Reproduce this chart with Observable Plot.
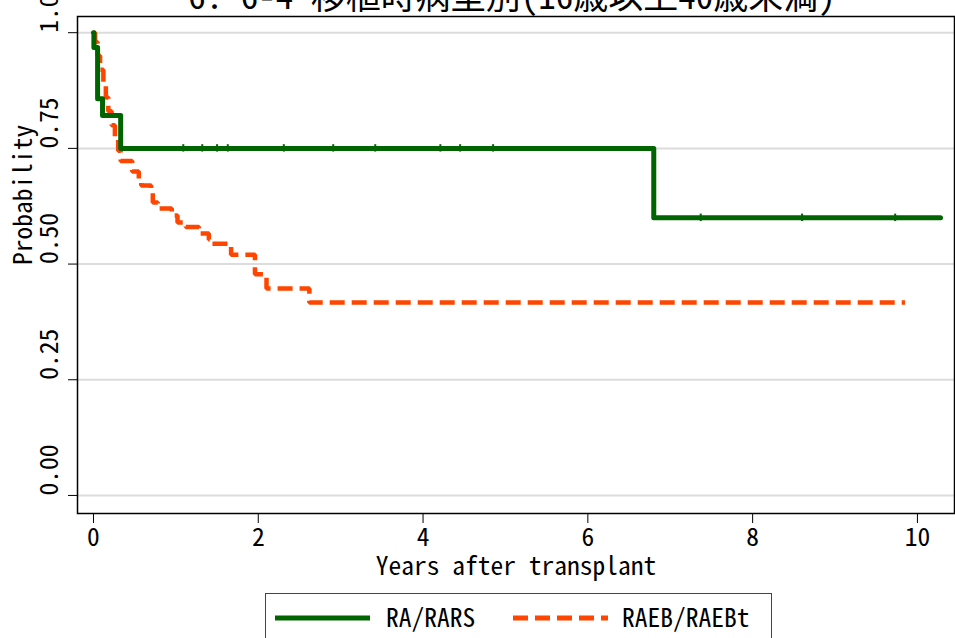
<!DOCTYPE html>
<html>
<head>
<meta charset="utf-8">
<script src="https://cdn.jsdelivr.net/npm/d3@7"></script>
<script src="https://cdn.jsdelivr.net/npm/@observablehq/plot@0.6"></script>
<style>
  html, body { margin: 0; padding: 0; background: #fff; }
  #wrap { position: relative; width: 955px; height: 638px; overflow: hidden; background: #fff;
          font-family: "Noto Sans Mono CJK JP", "Noto Sans CJK JP", "Liberation Mono", monospace; }
  #title { position: absolute; left: 0; width: 1024px; top: -24px; text-align: center;
           font-size: 35px; line-height: 1; color: #000; white-space: nowrap; }
  #chart { position: absolute; left: 0; top: 0; }
  #legend { position: absolute; left: 265px; top: 593px; width: 507px; height: 60px;
            border: 1.5px solid #444; background: #fff; box-sizing: border-box; }
</style>
</head>
<body>
<div id="wrap">
  <div id="chart"></div>
  <div id="title"></div>
  <div id="legend"></div>
</div>
<script>
// ---- data ----
const titleText = "6. 6-4 移植時病型別(16歳以上40歳未満)";
const seriesNames = ["RA/RARS", "RAEB/RAEBt"];

const greenTime = [0, 0.005, 0.05, 0.11, 0.33, 6.8, 10.28];
const greenSurv = [1.0, 0.968, 0.857, 0.821, 0.75, 0.60, 0.60];

const greenCensorTime = [1.09, 1.32, 1.50, 1.63, 2.31, 2.91, 3.42, 4.21, 4.45, 4.85, 7.37, 8.60, 9.73];
const greenCensorSurv = [0.75, 0.75, 0.75, 0.75, 0.75, 0.75, 0.75, 0.75, 0.75, 0.75, 0.60, 0.60, 0.60];

const orangeTime = [0, 0.02, 0.05, 0.08, 0.12, 0.15, 0.18, 0.22, 0.26, 0.30, 0.33, 0.47, 0.55, 0.58, 0.70, 0.72, 0.78, 0.95, 1.02, 1.12, 1.28, 1.40, 1.42, 1.67, 1.96, 2.10, 2.62, 9.85];
const orangeSurv = [1.0, 0.98, 0.95, 0.92, 0.89, 0.86, 0.83, 0.80, 0.77, 0.745, 0.723, 0.70, 0.685, 0.67, 0.655, 0.633, 0.62, 0.605, 0.59, 0.58, 0.566, 0.553, 0.544, 0.52, 0.478, 0.447, 0.417, 0.417];

const xTicks = [0, 2, 4, 6, 8, 10];
const yTicks = [0, 0.25, 0.5, 0.75, 1];
const xLabel = "Years after transplant";
const yLabel = "Probability";

// ---- styles ----
const GREEN = "#006400";
const ORANGE = "#FF4500";
const FONT = '"Noto Sans Mono CJK JP", "Noto Sans CJK JP", "Liberation Mono", monospace';
const FS = 25.5;

document.getElementById("title").textContent = titleText;

const green = greenTime.map((t, i) => ({t, s: greenSurv[i]}));
const orange = orangeTime.map((t, i) => ({t, s: orangeSurv[i]}));
const greenCens = greenCensorTime.map((t, i) => ({t, s: greenCensorSurv[i]}));

const plot = Plot.plot({
  width: 955,
  height: 585,
  marginTop: 16,
  marginLeft: 77,
  marginRight: 1,
  marginBottom: 72,
  style: {fontFamily: FONT, fontSize: FS + "px", background: "transparent", color: "#000"},
  x: {domain: [-0.194, 10.45]},
  y: {domain: [-0.039, 1.035]},
  marks: [
    Plot.gridY(yTicks, {stroke: "#dcdcdc", strokeOpacity: 1, strokeWidth: 2}),
    Plot.frame({stroke: "#000", strokeWidth: 1.5}),
    Plot.axisX({ticks: xTicks, tickSize: 10, tickFormat: () => "", label: null, stroke: "#000"}),
    Plot.axisY({ticks: yTicks, tickSize: 9, tickFormat: () => "", label: null, stroke: "#000"}),
    Plot.text(xTicks, {x: d => d, frameAnchor: "bottom", dy: 32, text: d => String(d), fontSize: FS, fill: "#000"}),
    Plot.text(yTicks, {y: d => d, frameAnchor: "left", dx: -28, rotate: -90, text: d => d3.format(".2f")(d), fontSize: FS, fill: "#000"}),
    Plot.text([xLabel], {frameAnchor: "bottom", dy: 61, text: d => d, fontSize: FS, fill: "#000"}),
    Plot.text([yLabel], {frameAnchor: "left", dx: -54, rotate: -90, text: d => d, fontSize: FS, fill: "#000"}),
    Plot.line(orange, {x: "t", y: "s", curve: "step-after", stroke: ORANGE, strokeWidth: 4.5, strokeDasharray: "15,7", strokeLinecap: "butt", strokeLinejoin: "miter"}),
    Plot.line(green, {x: "t", y: "s", curve: "step-after", stroke: GREEN, strokeWidth: 5, strokeLinecap: "round", strokeLinejoin: "round"}),
    Plot.ruleX(greenCens, {x: "t", y1: d => d.s - 0.008, y2: d => d.s + 0.008, stroke: GREEN, strokeWidth: 2})
  ]
});
document.getElementById("chart").appendChild(plot);

// ---- legend ----
const lg = d3.select("#legend").append("svg").attr("width", 505).attr("height", 58);
lg.append("line").attr("x1", 9).attr("x2", 104).attr("y1", 24).attr("y2", 24)
  .attr("stroke", GREEN).attr("stroke-width", 5);
lg.append("text").attr("x", 120).attr("y", 24).attr("dy", "0.36em")
  .attr("font-family", FONT).attr("font-size", FS).text(seriesNames[0]);
lg.append("line").attr("x1", 247).attr("x2", 342).attr("y1", 24).attr("y2", 24)
  .attr("stroke", ORANGE).attr("stroke-width", 5).attr("stroke-dasharray", "15,7");
lg.append("text").attr("x", 356).attr("y", 24).attr("dy", "0.36em")
  .attr("font-family", FONT).attr("font-size", FS).text(seriesNames[1]);
</script>
</body>
</html>
